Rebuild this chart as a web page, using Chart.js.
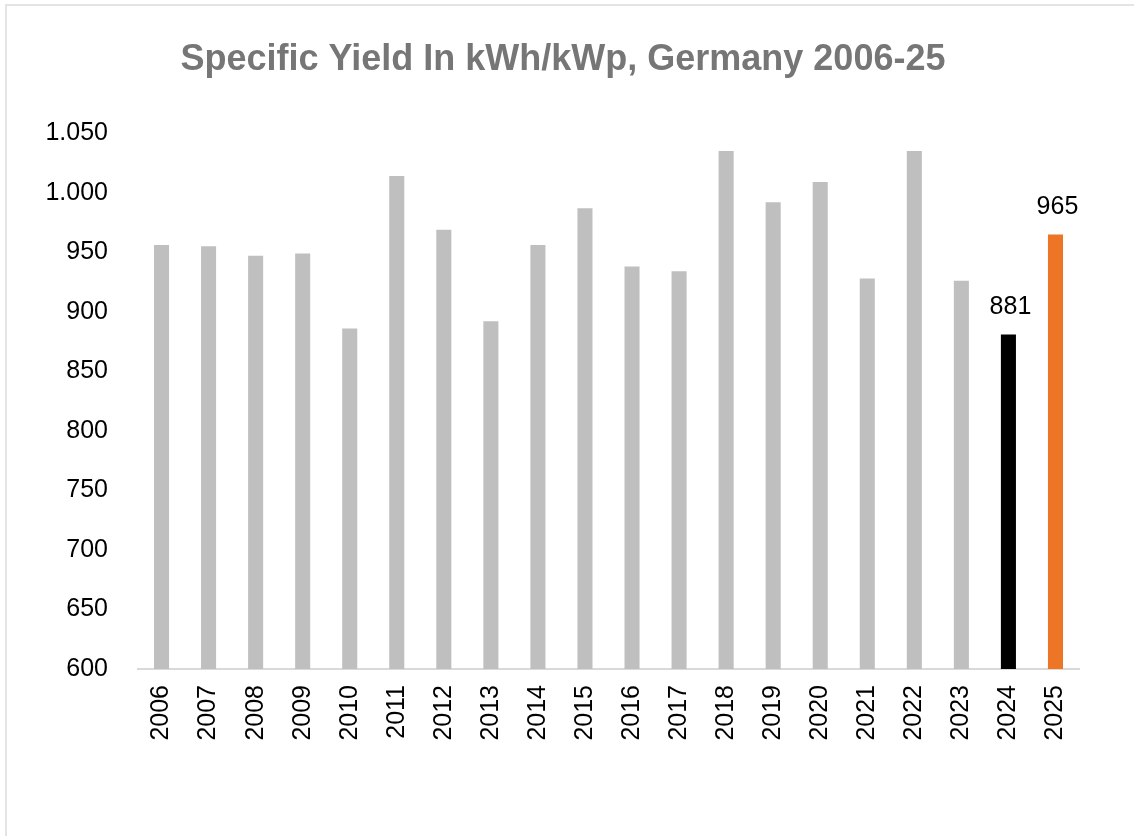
<!DOCTYPE html>
<html>
<head>
<meta charset="utf-8">
<script src="https://cdn.jsdelivr.net/npm/chart.js@4"></script>
<style>
    html, body { margin: 0; padding: 0; background: #fff; overflow: hidden; }
    #wrap { position: relative; width: 1134px; height: 836px; }
    #frame {
        position: absolute; left: 5px; top: 4px; width: 1200px; height: 900px;
        border-left: 2px solid #e4e4e4; border-top: 2px solid #e4e4e4;
    }
    #plot { position: absolute; left: 0; top: 0; }
</style>
</head>
<body>
<div id="wrap">
    <div id="frame"></div>
    <canvas id="plot" width="1134" height="836"></canvas>
</div>
<script>
// Chart data
const years = ['2006', '2007', '2008', '2009', '2010', '2011', '2012', '2013', '2014', '2015',
               '2016', '2017', '2018', '2019', '2020', '2021', '2022', '2023', '2024', '2025'];
const yieldKwh = [956, 955, 947, 949, 886, 1014, 969, 892, 956, 987,
                  938, 934, 1035, 992, 1009, 928, 1035, 926, 881, 965];
const labelledYears = ['2024', '2025'];
const chartTitle = 'Specific Yield In kWh/kWp, Germany 2006-25';

// bar colours: grey, except the last two years
const barColors = years.map(y => y === '2025' ? '#ed7626' : (y === '2024' ? '#000000' : '#bfbfbf'));

// German style thousands separator (1.050)
function formatDe(v) {
    return String(v).replace(/\B(?=(\d{3})+(?!\d))/g, '.');
}

// draws the value above the highlighted bars
const valueLabels = {
    id: 'valueLabels',
    afterDatasetsDraw(chart) {
        const ctx = chart.ctx;
        const meta = chart.getDatasetMeta(0);
        ctx.save();
        ctx.font = '25px "Liberation Sans", Arial, sans-serif';
        ctx.fillStyle = '#000';
        ctx.textAlign = 'center';
        ctx.textBaseline = 'alphabetic';
        meta.data.forEach((bar, i) => {
            if (!labelledYears.includes(years[i])) return;
            ctx.fillText(formatDe(yieldKwh[i]), bar.x + 2, bar.y - 20);
        });
        ctx.restore();
    }
};

const plot = document.getElementById('plot').getContext('2d');
new Chart(plot, {
    type: 'bar',
    data: {
        labels: years,
        datasets: [{
            data: yieldKwh,
            backgroundColor: barColors,
            borderWidth: 0,
            barPercentage: 0.32,
            categoryPercentage: 1
        }]
    },
    options: {
        responsive: false,
        animation: false,
        layout: { padding: { left: 47, right: 55, top: 0, bottom: 0 } },
        scales: {
            x: {
                grid: { display: false, drawTicks: false },
                border: { display: true, color: '#d9d9d9', width: 2 },
                ticks: {
                    color: '#000',
                    font: { family: '"Liberation Sans", Arial, sans-serif', size: 25 },
                    minRotation: 90,
                    maxRotation: 90,
                    padding: 16,
                    autoSkip: false
                },
                afterFit: (s) => { s.height = 167; }
            },
            y: {
                min: 600,
                max: 1050,
                grid: { display: false, drawTicks: false },
                border: { display: false },
                ticks: {
                    stepSize: 50,
                    color: '#000',
                    font: { family: '"Liberation Sans", Arial, sans-serif', size: 25 },
                    padding: 30,
                    callback: (v) => formatDe(v)
                },
                afterFit: (s) => { s.width = 91; }
            }
        },
        plugins: {
            legend: { display: false },
            tooltip: { enabled: false },
            title: {
                display: true,
                text: chartTitle,
                color: '#767676',
                font: { family: '"Liberation Sans", Arial, sans-serif', size: 36, weight: 'bold', lineHeight: 1.2 },
                padding: { top: 38, bottom: 52 }
            }
        }
    },
    plugins: [valueLabels]
});
</script>
</body>
</html>
